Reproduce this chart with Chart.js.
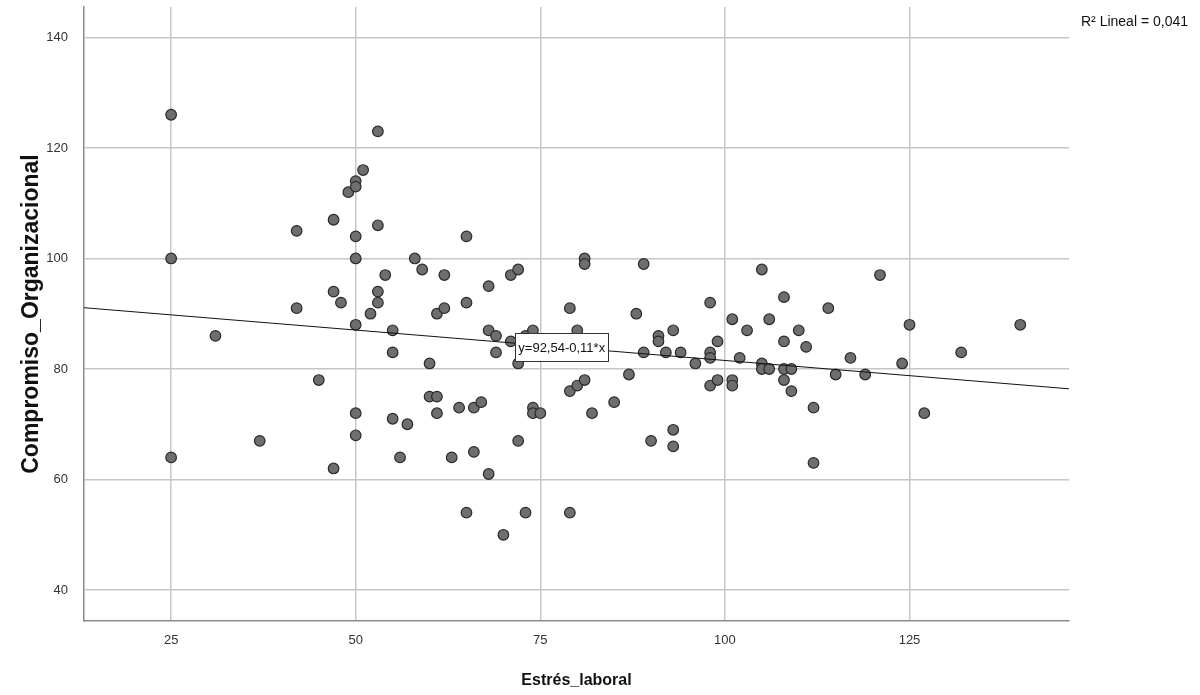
<!DOCTYPE html>
<html lang="es">
<head>
  <meta charset="UTF-8" />
  <title>Estrés laboral y compromiso organizacional</title>
  <script src="https://cdn.jsdelivr.net/npm/chart.js"></script>
  <style>
    html, body { margin: 0; padding: 0; background: #fff; }
    canvas { display: block; }
  </style>
</head>
<body>
  <canvas id="dispersion" width="1200" height="695"></canvas>

  <script>
    // valores (un punto por caso)
    const estres = [
      25, 25, 25, 31, 37, 42, 42, 45, 47, 47, 47, 48, 49,
      50, 50, 50, 50, 50, 50, 50, 51, 52, 53, 53, 53, 53,
      54, 55, 55, 55, 56, 57, 58, 59, 60, 60, 61, 61, 61,
      62, 62, 63, 64, 65, 65, 65, 66, 66, 67, 68, 68, 68,
      69, 69, 70, 71, 71, 72, 72, 72, 73, 73, 74, 74, 74,
      75, 79, 79, 79, 80, 80, 81, 81, 81, 82, 85, 87, 88,
      89, 89, 90, 91, 91, 92, 93, 93, 93, 94, 96, 98, 98,
      98, 98, 99, 99, 101, 101, 101, 102, 103, 105, 105, 105, 106,
      106, 108, 108, 108, 108, 109, 109, 110, 111, 112, 112, 114, 115,
      117, 119, 121, 124, 125, 127, 132, 140
    ];
    const compromiso = [
      126, 100, 64, 86, 67, 105, 91, 78, 107, 94, 62, 92, 112,
      114, 113, 104, 100, 88, 72, 68, 116, 90, 123, 106, 94, 92,
      97, 87, 83, 71, 64, 70, 100, 98, 81, 75, 90, 75, 72,
      97, 91, 64, 73, 104, 92, 54, 73, 65, 74, 95, 87, 61,
      86, 83, 50, 97, 85, 98, 81, 67, 86, 54, 87, 73, 72,
      72, 91, 76, 54, 87, 77, 100, 99, 78, 72, 74, 79, 90,
      99, 83, 67, 86, 85, 83, 87, 69, 66, 83, 81, 92, 83,
      82, 77, 85, 78, 89, 78, 77, 82, 87, 98, 81, 80, 89,
      80, 93, 85, 80, 78, 80, 76, 87, 84, 73, 63, 91, 79,
      82, 79, 97, 81, 88, 72, 83, 88
    ];
    const ticksX = [25, 50, 75, 100, 125];
    const ticksY = [40, 60, 80, 100, 120, 140];

    // recta de ajuste lineal
    const intercepto = 92.54;
    const pendiente = -0.11;
    const etiquetaRecta = 'y=92,54-0,11*x';
    const etiquetaR2 = 'R² Lineal = 0,041';

    const rangoX = { min: 13.2, max: 146.6 };
    const rangoY = { min: 34.4, max: 145.5 };

    const puntos = estres.map((x, i) => ({ x: x, y: compromiso[i] }));
    const recta = [rangoX.min, rangoX.max].map(x => ({ x: x, y: intercepto + pendiente * x }));

    // cuadro con la ecuación y texto del R²
    const anotaciones = {
      id: 'anotaciones',
      afterDatasetsDraw(chart) {
        const ctx = chart.ctx;
        const xs = chart.scales.x, ys = chart.scales.y;
        const xv = 77.9;
        const cx = xs.getPixelForValue(xv);
        const cy = ys.getPixelForValue(intercepto + pendiente * xv);
        ctx.save();
        ctx.font = '13px "Liberation Sans", Arial, sans-serif';
        const w = ctx.measureText(etiquetaRecta).width + 6;
        const h = 28;
        ctx.fillStyle = '#fff';
        ctx.fillRect(cx - w / 2, cy - h / 2, w, h);
        ctx.strokeStyle = '#333';
        ctx.lineWidth = 1;
        ctx.strokeRect(Math.round(cx - w / 2) + 0.5, Math.round(cy - h / 2) + 0.5, Math.round(w), h);
        ctx.fillStyle = '#111';
        ctx.textAlign = 'center';
        ctx.textBaseline = 'middle';
        ctx.fillText(etiquetaRecta, cx, cy + 1);

        ctx.font = '14px "Liberation Sans", Arial, sans-serif';
        ctx.textAlign = 'right';
        ctx.fillText(etiquetaR2, chart.width - 12, 22);
        ctx.restore();
      }
    };

    new Chart(document.getElementById('dispersion'), {
      type: 'scatter',
      data: {
        datasets: [
          {
            type: 'line',
            label: 'Lineal',
            data: recta,
            borderColor: '#111',
            borderWidth: 1,
            pointRadius: 0,
            fill: false,
            order: 0
          },
          {
            label: 'Casos',
            data: puntos,
            pointRadius: 5.3,
            pointBackgroundColor: '#6e6e6e',
            pointBorderColor: '#2a2a2a',
            pointBorderWidth: 1.2,
            order: 1
          }
        ]
      },
      options: {
        responsive: false,
        animation: false,
        layout: { padding: { top: 7, right: 131, bottom: 0, left: 0 } },
        plugins: {
          legend: { display: false },
          tooltip: { enabled: false }
        },
        scales: {
          x: {
            type: 'linear',
            min: rangoX.min,
            max: rangoX.max,
            afterBuildTicks: s => { s.ticks = ticksX.map(v => ({ value: v })); },
            afterFit: s => { s.height = 74; s.paddingLeft = 0; s.paddingRight = 0; },
            grid: { color: '#c6c6c6', lineWidth: 1.5, drawTicks: false },
            border: { color: '#8a8a8a', width: 1.5 },
            ticks: {
              padding: 12,
              color: '#333',
              font: { family: '"Liberation Sans", Arial, sans-serif', size: 13 }
            },
            title: {
              display: true,
              text: 'Estrés_laboral',
              color: '#111',
              padding: { top: 0, bottom: 5 },
              font: { family: '"Liberation Sans", Arial, sans-serif', size: 16, weight: 'bold' }
            }
          },
          y: {
            type: 'linear',
            min: rangoY.min,
            max: rangoY.max,
            afterBuildTicks: s => { s.ticks = ticksY.map(v => ({ value: v })); },
            afterFit: s => { s.width = 84; s.paddingTop = 0; s.paddingBottom = 0; },
            grid: { color: '#c6c6c6', lineWidth: 1.5, drawTicks: false },
            border: { color: '#8a8a8a', width: 1.5 },
            ticks: {
              padding: 16,
              color: '#333',
              font: { family: '"Liberation Sans", Arial, sans-serif', size: 13 }
            },
            title: {
              display: true,
              text: 'Compromiso_Organizacional',
              color: '#111',
              padding: { top: 18, bottom: 0 },
              font: { family: '"Liberation Sans", Arial, sans-serif', size: 23, weight: 'bold' }
            }
          }
        }
      },
      plugins: [anotaciones]
    });
  </script>
</body>
</html>
